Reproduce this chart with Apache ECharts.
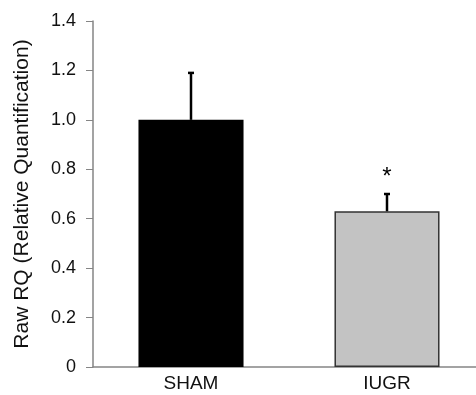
<!DOCTYPE html>
<html>
<head>
	<meta charset="UTF-8">
	<title></title>
	<style>
		html, body { margin: 0; padding: 0; background: #fff; }
		#chart { width: 476px; height: 395px; }
	</style>
	<script src="https://cdn.jsdelivr.net/npm/echarts@6/dist/echarts.min.js"></script>
</head>
<body>
	<div id="chart"></div>
	<script>
		var categories = ['SHAM', 'IUGR'];
		var means = [1.0, 0.63];
		var errors = [0.19, 0.07];
		var marks = ['', '*'];
		var barColors = ['#000000', '#c3c3c3'];

		var font = 'Liberation Sans, Arial, sans-serif';
		var axisGray = '#858585';

		var mychart = echarts.init(document.getElementById('chart'));
		mychart.setOption({
			animation: false,
			grid: {
				left: 93,
				top: 21,
				width: 392,
				bottom: 28,
				containLabel: false,
				outerBoundsMode: 'none'
			},
			xAxis: {
				type: 'category',
				data: categories,
				axisLine: { lineStyle: { color: axisGray, width: 1.5 } },
				axisTick: { length: 6, lineStyle: { color: axisGray } },
				axisLabel: {
					color: '#111',
					fontSize: 19,
					fontFamily: font,
					margin: 7
				}
			},
			yAxis: {
				type: 'value',
				min: 0,
				max: 1.4,
				interval: 0.2,
				name: 'Raw RQ (Relative Quantification)',
				nameLocation: 'middle',
				nameGap: 60,
				nameTextStyle: {
					color: '#111',
					fontSize: 21,
					fontFamily: font
				},
				splitLine: { show: false },
				axisLine: { show: true, lineStyle: { color: axisGray, width: 1.5 } },
				axisTick: { show: true, length: 7, lineStyle: { color: axisGray } },
				axisLabel: {
					color: '#111',
					fontSize: 18,
					fontFamily: font,
					margin: 17,
					formatter: function (v) {
						return v === 0 ? '0' : v.toFixed(1);
					}
				}
			},
			series: [
				{
					type: 'bar',
					barWidth: '53.6%',
					data: means.map(function (v, i) {
						return {
							value: v,
							itemStyle: {
								color: barColors[i],
								borderColor: i === 0 ? '#000' : '#333',
								borderWidth: 1.5
							}
						};
					}),
					z: 2
				},
				{
					type: 'custom',
					data: means.map(function (v, i) {
						return [i, v, v + errors[i]];
					}),
					renderItem: function (params, api) {
						var i = api.value(0);
						var base = api.coord([i, api.value(1)]);
						var top = api.coord([i, api.value(2)]);
						var children = [
							{
								type: 'line',
								shape: { x1: base[0], y1: base[1], x2: top[0], y2: top[1] },
								style: { stroke: '#000', lineWidth: 2.5 }
							},
							{
								type: 'line',
								shape: { x1: top[0] - 3, y1: top[1], x2: top[0] + 3, y2: top[1] },
								style: { stroke: '#000', lineWidth: 2.5 }
							}
						];
						if (marks[i]) {
							children.push({
								type: 'text',
								x: top[0],
								y: top[1] - 17,
								style: {
									text: marks[i],
									fill: '#000',
									font: '24px ' + font,
									align: 'center',
									verticalAlign: 'middle'
								}
							});
						}
						return { type: 'group', children: children };
					},
					z: 3
				}
			]
		});
	</script>
</body>
</html>
